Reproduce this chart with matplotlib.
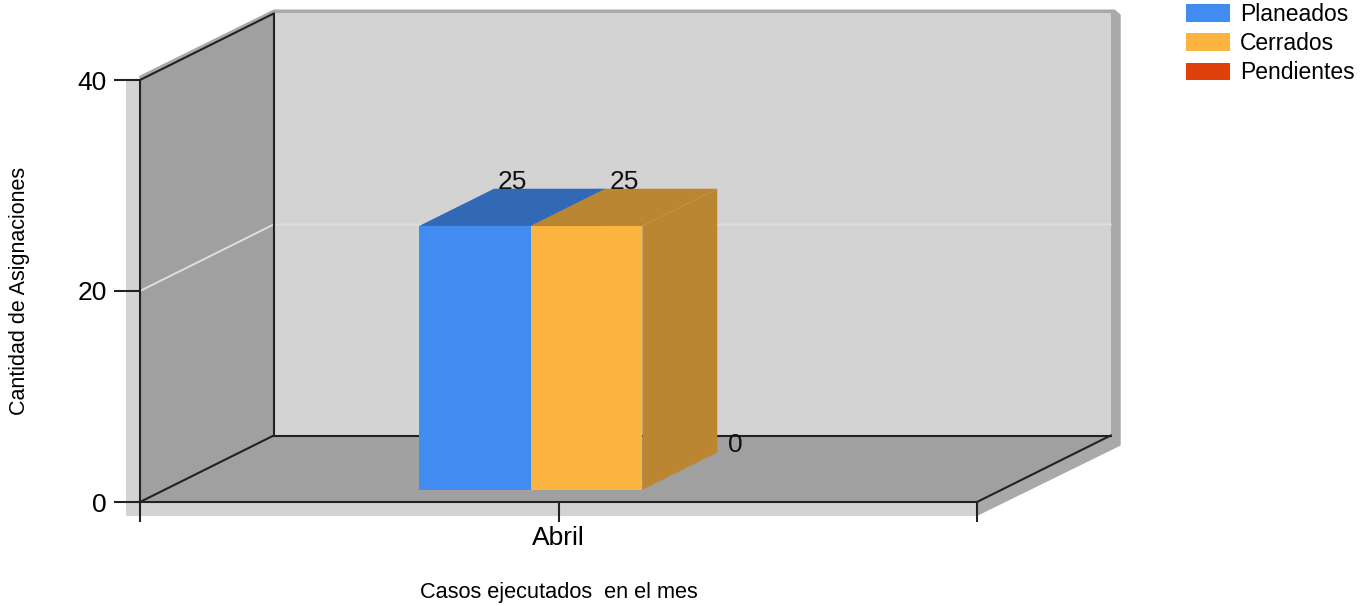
import matplotlib
matplotlib.use("Agg")
import matplotlib.pyplot as plt
from matplotlib.patches import Polygon, Rectangle, Patch

plt.rcParams['font.family'] = ['Liberation Sans', 'DejaVu Sans']

# Data
categories = ['Abril']
series_names = ['Planeados', 'Cerrados', 'Pendientes']
series_values = [[25], [25], [0]]
y_ticks = [0, 20, 40]

# Styles
front_colors = ['#418cf0', '#fcb441', '#e0400a']
shade_colors = ['#3169b4', '#bb8631', '#a8300a']
back_wall = '#d3d3d3'
side_wall = '#a0a0a0'
edge = '#222222'

YMAX = 40
W, H = 1369, 606
fig = plt.figure(figsize=(W / 100, H / 100), dpi=100)
ax = fig.add_axes([140 / W, (H - 502) / H, 837 / W, 422 / H])
ax.set_xlim(-0.5, len(categories) - 0.5)
ax.set_ylim(0, YMAX)
ax.patch.set_visible(False)

# pixel -> data helpers
XPP = 1.0 / 837
YPP = YMAX / 422.0
DX = 133.7 * XPP
DY = 66.5 * YPP
XL, XR = ax.get_xlim()
Y0, Y1 = ax.get_ylim()


def p(x, y, ox=0, oy=0):
    return (x + ox * XPP, y - oy * YPP)


def poly(pts, color, z):
    ax.add_patch(Polygon(pts, closed=True, facecolor=color, edgecolor='none',
                         zorder=z, clip_on=False))


# shadows
ax.add_patch(Rectangle(p(XL, Y0, -14, 14), (XR - XL) + 14 * XPP,
                       (Y1 - Y0) + 14 * YPP, facecolor='#d3d3d3',
                       edgecolor='none', zorder=0.5, clip_on=False))
poly([p(XL, Y1, -1, -4), p(XL + DX, Y1 + DY, 0, -4), p(XR + DX, Y1 + DY, 4, -4),
      p(XR + DX, Y1 + DY, 10, 1), p(XR + DX, Y0 + DY, 10, 10), p(XR, Y0, 0, 14),
      p(XR, Y0), p(XR + DX, Y0 + DY), p(XR + DX, Y1 + DY), p(XL + DX, Y1 + DY),
      p(XL, Y1)], '#a9a9a9', 0.6)

# walls
poly([(XL + DX, Y0 + DY), (XR + DX, Y0 + DY), (XR + DX, Y1 + DY), (XL + DX, Y1 + DY)],
     back_wall, 1)
poly([(XL, Y0), (XL + DX, Y0 + DY), (XL + DX, Y1 + DY), (XL, Y1)], side_wall, 1)
poly([(XL, Y0), (XR, Y0), (XR + DX, Y0 + DY), (XL + DX, Y0 + DY)], side_wall, 1)

# gridlines
for t in y_ticks[1:-1]:
    ax.plot([XL, XL + DX, XR + DX], [t, t + DY, t + DY], color='#dedede',
            lw=1.4, zorder=1.5, clip_on=False)

# wall edges
for xs, ys in [([XL, XL + DX], [Y1, Y1 + DY]),
               ([XL + DX, XL + DX], [Y0 + DY, Y1 + DY]),
               ([XL + DX, XR + DX], [Y0 + DY, Y0 + DY]),
               ([XL, XL + DX], [Y0, Y0 + DY]),
               ([XR, XR + DX], [Y0, Y0 + DY])]:
    ax.plot(xs, ys, color=edge, lw=1.5, zorder=2, clip_on=False)

# bars
group = 0.4
bw = group / len(series_names)
d0, d1 = 0.185, 0.745
for c, cat in enumerate(categories):
    for i, vals in enumerate(series_values):
        v = vals[c]
        xl = c - group / 2 + i * bw + 0.004
        fx, fy = xl + d0 * DX, d0 * DY
        bx, by = xl + d1 * DX, d1 * DY
        if v > 0:
            poly([(fx, v + fy), (fx + bw, v + fy), (bx + bw, v + by), (bx, v + by)],
                 shade_colors[i], 3)
            poly([(fx + bw, fy), (bx + bw, by), (bx + bw, v + by), (fx + bw, v + fy)],
                 shade_colors[i], 3)
            ax.add_patch(Rectangle((fx, fy), bw, v, facecolor=front_colors[i],
                                   edgecolor='none', zorder=3, clip_on=False))
        ax.text(xl + bw / 2 + (d0 + d1) / 2 * DX, v + by, str(v), ha='center',
                va='baseline', fontsize=19, color='#111111', zorder=5)

# axes
for s in ['top', 'right']:
    ax.spines[s].set_visible(False)
for s in ['left', 'bottom']:
    ax.spines[s].set_color(edge)
    ax.spines[s].set_linewidth(1.5)
    ax.spines[s].set_zorder(2)
ax.set_yticks(y_ticks)
ax.set_xticks(range(len(categories)), categories)
ax.set_xticks([XL, XR], minor=True)
ax.tick_params(axis='y', length=18.7, width=1.5, pad=5, labelsize=19, color=edge)
ax.tick_params(axis='x', which='both', length=14.4, width=1.5, pad=3,
               labelsize=19, color=edge)

ax.set_ylabel('Cantidad de Asignaciones', fontsize=15.5, va='center', ha='center')
ax.yaxis.set_label_coords(-0.1434, 0.5)
ax.set_xlabel('Casos ejecutados  en el mes', fontsize=15.7, va='center')
ax.xaxis.set_label_coords(0.5, -0.215)

handles = [Patch(facecolor=col, edgecolor='none') for col in front_colors]
fig.legend(handles, series_names, loc='upper left',
           bbox_to_anchor=(1186 / W, 1 - 3 / H), frameon=False, fontsize=16.5,
           handlelength=1.9, handleheight=0.8, handletextpad=0.45,
           labelspacing=0.27, borderpad=0, borderaxespad=0)

fig.savefig('out.png', dpi=100)
